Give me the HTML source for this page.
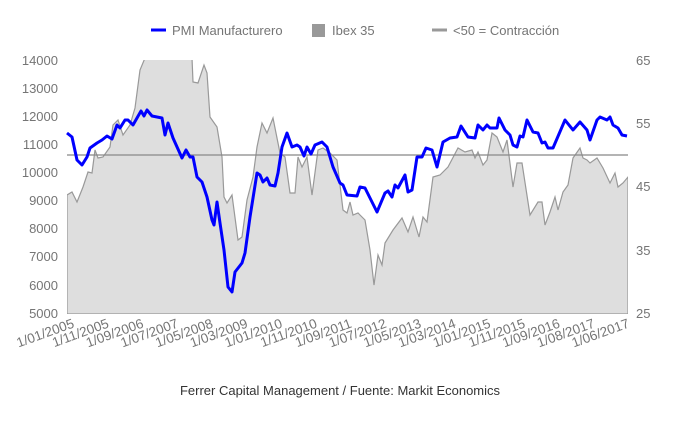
<!DOCTYPE html>
<html><head><meta charset="utf-8"><style>
body{margin:0;background:#fff;width:680px;height:420px;overflow:hidden;font-family:"Liberation Sans",sans-serif}
</style></head><body>
<svg width="680" height="420" xmlns="http://www.w3.org/2000/svg" font-family="Liberation Sans, sans-serif">
<defs><clipPath id="c"><rect x="67" y="60" width="561" height="254"/></clipPath></defs>
<g clip-path="url(#c)">
<polygon fill="#dedede" stroke="#999" stroke-width="1.2" points="67,314 67,195 72,192 77,202 83,187 88,172 92,173 95,150 98,158 103,157 110,147 113,125 118,120 123,135 130,125 135,108 140,70 145,58 192,58 193,82 198,83 204,65 207,73 210,117 217,127 222,157 224,197 227,203 232,195 238,240 242,237 247,200 253,177 257,147 262,123 267,133 273,118 280,153 285,157 290,193 295,193 298,157 302,167 307,157 312,195 318,150 323,148 330,153 337,160 343,210 347,213 350,202 353,215 358,213 360,215 365,220 370,250 374,285 378,255 382,265 385,243 393,230 402,218 408,232 413,217 419,237 423,217 427,222 433,177 440,175 448,167 458,148 465,152 472,150 475,158 478,152 483,165 487,160 492,133 497,137 503,152 507,140 513,187 517,163 522,163 530,215 538,202 542,202 545,225 550,212 555,197 558,210 563,192 568,185 573,158 580,148 583,158 587,160 590,163 597,158 603,168 610,183 615,173 618,187 623,183 628,177 628,314"/>
</g>
<line x1="67" y1="155" x2="628" y2="155" stroke="#888" stroke-width="1.2"/>
<polyline fill="none" stroke="#0000ff" stroke-width="3" stroke-linejoin="round" points="67,133 72,137 77,160 82,165 87,157 90,148 97,143 102,140 107,136 112,139 117,125 120,128 125,120 128,120 133,125 141,111 144,116 147,110 152,116 157,117 162,118 165,135 168,123 173,138 182,158 186,150 190,157 193,157 197,177 202,182 207,197 212,220 214,225 217,202 220,223 224,250 228,287 232,292 235,272 242,263 245,253 250,217 257,173 260,175 263,182 267,178 270,185 275,186 278,173 282,147 287,133 292,147 297,145 300,147 304,156 307,147 311,154 315,145 322,142 327,147 333,167 340,183 343,185 347,195 357,196 360,187 365,188 372,202 377,212 385,193 388,191 392,197 395,185 398,188 405,175 408,192 412,190 417,157 422,157 426,148 432,150 437,167 443,142 450,138 457,137 461,126 468,137 475,138 478,125 483,130 487,125 490,128 497,128 499,118 505,130 510,135 513,145 517,147 520,136 523,137 527,120 533,132 538,133 542,143 545,142 548,148 553,148 565,120 573,130 580,122 587,130 590,140 597,120 600,117 607,120 610,117 613,125 618,128 622,135 627,136"/>
<g font-size="13" fill="#757575" text-anchor="end">
<text x="58" y="65">14000</text><text x="58" y="93">13000</text><text x="58" y="121">12000</text><text x="58" y="149">11000</text><text x="58" y="177">10000</text><text x="58" y="205">9000</text><text x="58" y="233">8000</text><text x="58" y="261">7000</text><text x="58" y="290">6000</text><text x="58" y="318">5000</text>
</g>
<g font-size="13" fill="#757575">
<text x="636" y="65">65</text><text x="636" y="128">55</text><text x="636" y="191">45</text><text x="636" y="255">35</text><text x="636" y="318">25</text>
</g>
<g font-size="13.5" fill="#757575" text-anchor="end">
<text transform="translate(75,327) rotate(-20)">1/01/2005</text>
<text transform="translate(109.7,327) rotate(-20)">1/11/2005</text>
<text transform="translate(144.4,327) rotate(-20)">1/09/2006</text>
<text transform="translate(179.1,327) rotate(-20)">1/07/2007</text>
<text transform="translate(213.8,327) rotate(-20)">1/05/2008</text>
<text transform="translate(248.5,327) rotate(-20)">1/03/2009</text>
<text transform="translate(283.2,327) rotate(-20)">1/01/2010</text>
<text transform="translate(317.9,327) rotate(-20)">1/11/2010</text>
<text transform="translate(352.6,327) rotate(-20)">1/09/2011</text>
<text transform="translate(387.3,327) rotate(-20)">1/07/2012</text>
<text transform="translate(422,327) rotate(-20)">1/05/2013</text>
<text transform="translate(456.7,327) rotate(-20)">1/03/2014</text>
<text transform="translate(491.4,327) rotate(-20)">1/01/2015</text>
<text transform="translate(526.1,327) rotate(-20)">1/11/2015</text>
<text transform="translate(560.8,327) rotate(-20)">1/09/2016</text>
<text transform="translate(595.5,327) rotate(-20)">1/08/2017</text>
<text transform="translate(630.2,327) rotate(-20)">1/06/2017</text>
</g>
<line x1="151" y1="30" x2="166" y2="30" stroke="#0000ff" stroke-width="3"/>
<text x="172" y="35" font-size="13" fill="#757575">PMI Manufacturero</text>
<rect x="312" y="24" width="13" height="13" fill="#999"/>
<text x="332" y="35" font-size="13" fill="#757575">Ibex 35</text>
<line x1="432" y1="30" x2="447" y2="30" stroke="#999" stroke-width="3"/>
<text x="453" y="35" font-size="13" fill="#757575">&lt;50 = Contracción</text>
<text x="340" y="395" font-size="13" fill="#333" text-anchor="middle">Ferrer Capital Management / Fuente: Markit Economics</text>
</svg>
</body></html>
